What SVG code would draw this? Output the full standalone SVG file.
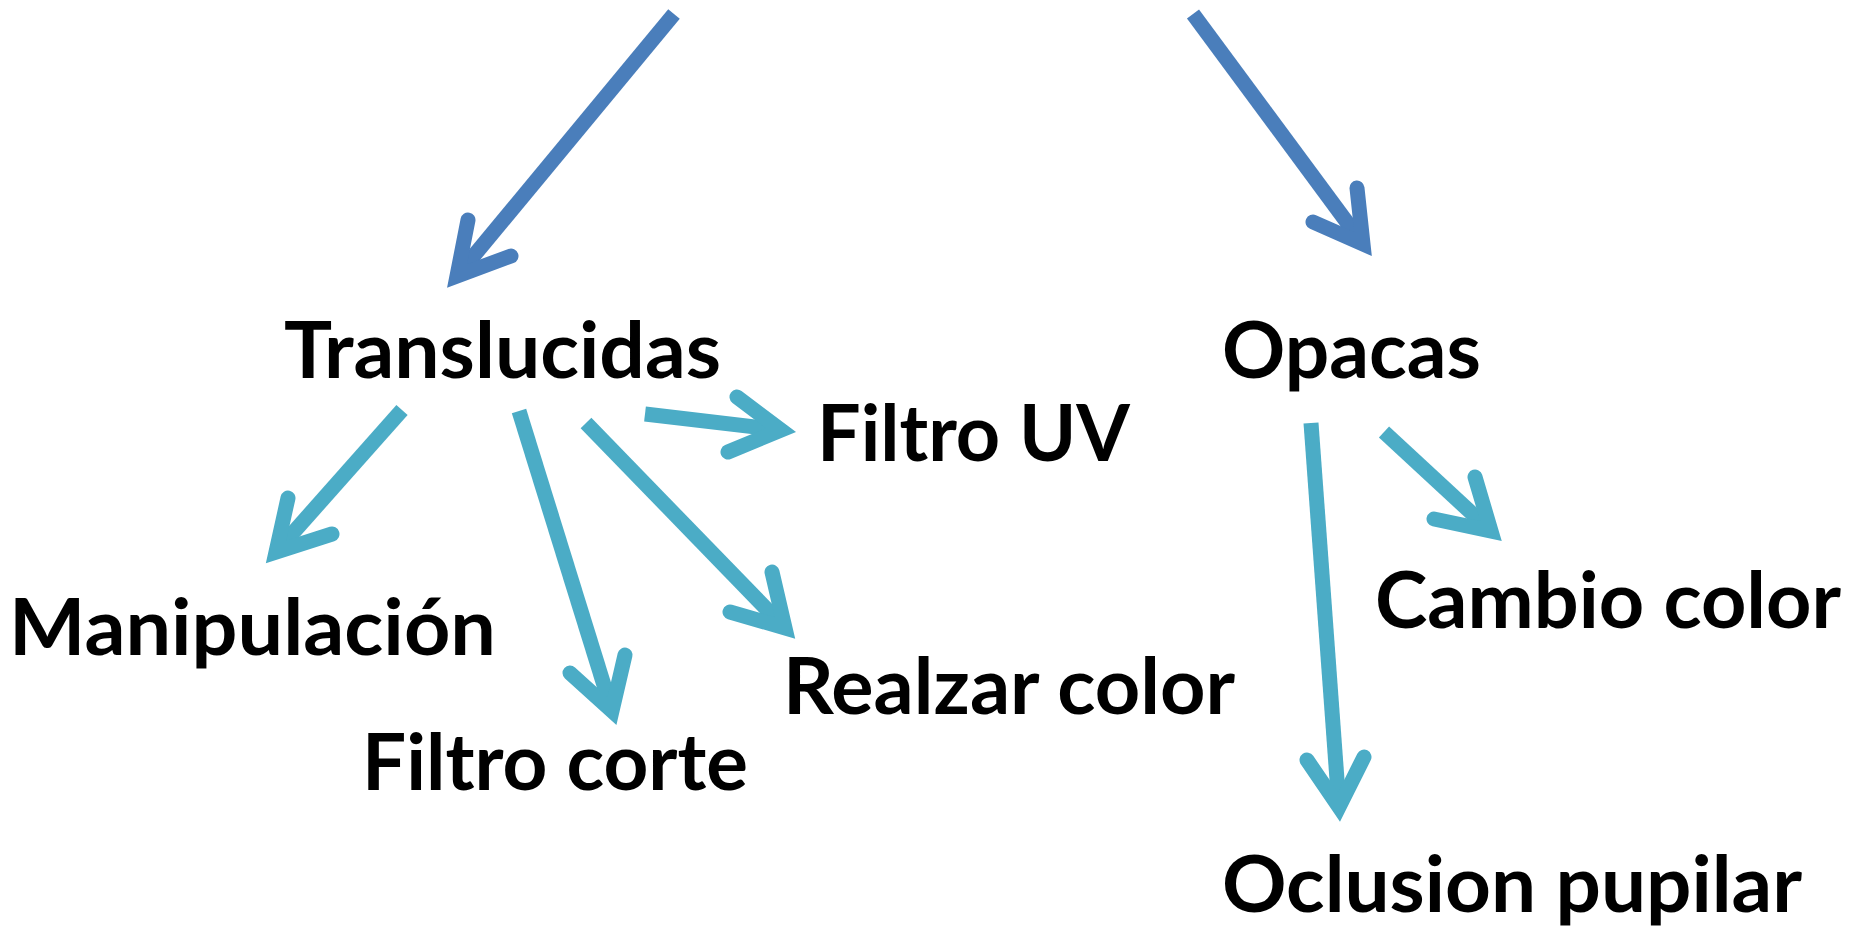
<svg xmlns="http://www.w3.org/2000/svg" width="1852" height="927" viewBox="0 0 1852 927">
<style>
.lbl{font-family:"Lato","Liberation Sans",sans-serif;font-weight:bold;font-size:78px;fill:#000}
.shaft{fill:none;stroke-width:15;stroke-linecap:butt}
.head{fill:none;stroke-width:15;stroke-linecap:round;stroke-linejoin:miter;stroke-miterlimit:10}
.blue{stroke:#4a7ebb}
.cyan{stroke:#4bacc6}
</style>
<rect width="1852" height="927" fill="#fff"/>
<g id="connectors">
<g id="arrow-top-translucidas" class="blue"><path class="shaft" d="M674,14 L457,276"/><path class="head" d="M468,220 L457,276 L511,256"/></g>
<g id="arrow-top-opacas" class="blue"><path class="shaft" d="M1193,14 L1363,244"/><path class="head" d="M1357,188 L1363,244 L1313,222"/></g>
<g id="arrow-manipulacion" class="cyan"><path class="shaft" d="M402,410 L276,552"/><path class="head" d="M288,498 L276,552 L332,534"/></g>
<g id="arrow-filtro-corte" class="cyan"><path class="shaft" d="M519,411 L612,711"/><path class="head" d="M570,673 L612,711 L625,655"/></g>
<g id="arrow-realzar" class="cyan"><path class="shaft" d="M586,423 L785,628"/><path class="head" d="M772,572 L785,628 L730,612"/></g>
<g id="arrow-filtro-uv" class="cyan"><path class="shaft" d="M645,414 L781,430"/><path class="head" d="M737,397 L781,430 L728,452"/></g>
<g id="arrow-oclusion" class="cyan"><path class="shaft" d="M1311,423 L1339,807"/><path class="head" d="M1307,760 L1339,807 L1364,757"/></g>
<g id="arrow-cambio" class="cyan"><path class="shaft" d="M1384,432 L1491,531"/><path class="head" d="M1475,477 L1491,531 L1434,519"/></g>
</g>
<g id="node-translucidas"><text class="lbl" x="284" y="378" textLength="437" lengthAdjust="spacingAndGlyphs">Translucidas</text></g>
<g id="node-opacas"><text class="lbl" x="1222" y="378" textLength="259" lengthAdjust="spacingAndGlyphs">Opacas</text></g>
<g id="node-filtro-uv"><text class="lbl" x="817" y="461" textLength="313" lengthAdjust="spacingAndGlyphs">Filtro UV</text></g>
<g id="node-manipulacion"><text class="lbl" x="9" y="655" textLength="487" lengthAdjust="spacingAndGlyphs">Manipulación</text></g>
<g id="node-filtro-corte"><text class="lbl" x="362" y="790" textLength="386" lengthAdjust="spacingAndGlyphs">Filtro corte</text></g>
<g id="node-realzar-color"><text class="lbl" x="783" y="714" textLength="452" lengthAdjust="spacingAndGlyphs">Realzar color</text></g>
<g id="node-cambio-color"><text class="lbl" x="1375" y="628" textLength="466" lengthAdjust="spacingAndGlyphs">Cambio color</text></g>
<g id="node-oclusion-pupilar"><text class="lbl" x="1222" y="912" textLength="580" lengthAdjust="spacingAndGlyphs">Oclusion pupilar</text></g>
</svg>
